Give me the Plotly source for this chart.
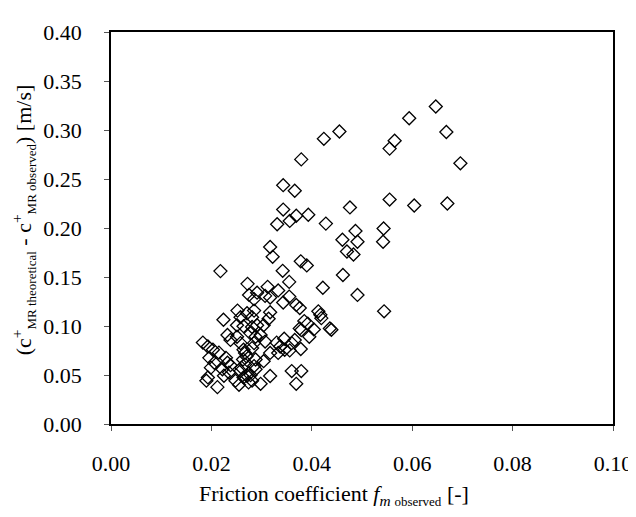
import plotly.graph_objects as go

# Friction coefficient f_m observed [-]
friction = [
    0.0647, 0.0594, 0.0668, 0.0696, 0.0604, 0.0670,
    0.0565, 0.0555, 0.0555, 0.0543, 0.0542, 0.0544,
    0.0455, 0.0424, 0.0379,
    0.0343, 0.0366,
    0.0343, 0.0369, 0.0356, 0.0331, 0.0393,
    0.0428, 0.0476, 0.0487, 0.0461, 0.0491,
    0.0470, 0.0483,
    0.0317, 0.0322, 0.0218,
    0.0378, 0.0390,
    0.0462, 0.0422, 0.0491,
    0.0342, 0.0355,
    0.0272, 0.0312, 0.0333,
    0.0275, 0.0291, 0.0307, 0.0317, 0.0285,
    0.0343, 0.0355,
    0.0369, 0.0376,
    0.0413, 0.0417, 0.0419,
    0.0385, 0.0392,
    0.0376, 0.0379, 0.0404, 0.0395,
    0.0436, 0.0439,
    0.0366, 0.0378, 0.0379, 0.0369, 0.0360,
    0.0252, 0.0285, 0.0317,
    0.0258, 0.0281, 0.0314,
    0.0224, 0.0271,
    0.0264, 0.0251, 0.0291, 0.0281, 0.0304,
    0.0232, 0.0238, 0.0251, 0.0258,
    0.0278, 0.0288, 0.0298, 0.0307,
    0.0285, 0.0281,
    0.0183, 0.0193, 0.0203,
    0.0215,
    0.0196, 0.0229,
    0.0206, 0.0232, 0.0238,
    0.0199, 0.0222,
    0.0235, 0.0225,
    0.0193, 0.0190, 0.0212,
    0.0248, 0.0255,
    0.0264, 0.0271, 0.0274,
    0.0264, 0.0267, 0.0270, 0.0263, 0.0267, 0.0260, 0.0258,
    0.0337, 0.0346, 0.0356,
    0.0317, 0.0333,
    0.0304, 0.0288,
    0.0285, 0.0288, 0.0278,
    0.0317, 0.0298, 0.0281,
    0.0360, 0.0330, 0.0345,
]

# (c+ MR theoretical - c+ MR observed) [m/s]
difference = [
    0.324, 0.312, 0.298, 0.266, 0.223, 0.225,
    0.289, 0.281, 0.229, 0.1995, 0.186, 0.115,
    0.2985, 0.291, 0.270,
    0.2437, 0.238,
    0.2188, 0.2125, 0.2072, 0.2038, 0.2135,
    0.2045, 0.221, 0.197, 0.188, 0.186,
    0.176, 0.173,
    0.1806, 0.1706, 0.156,
    0.1660, 0.1618,
    0.152, 0.139, 0.1317,
    0.1563, 0.145,
    0.143, 0.140, 0.1363,
    0.1317, 0.134, 0.1307, 0.129, 0.1274,
    0.124, 0.130,
    0.1215, 0.1184,
    0.115, 0.1114, 0.1080,
    0.105, 0.1024,
    0.0975, 0.0958, 0.0965, 0.089,
    0.0975, 0.0962,
    0.0858, 0.0765, 0.054, 0.041, 0.054,
    0.1157, 0.1157, 0.114,
    0.109, 0.109, 0.1074,
    0.1064, 0.113,
    0.0998, 0.1008, 0.1008, 0.099, 0.1008,
    0.0908, 0.0858, 0.089, 0.0825,
    0.0925, 0.089, 0.0908, 0.0841,
    0.0825, 0.0775,
    0.0831, 0.0791, 0.0758,
    0.0728,
    0.0675, 0.0675,
    0.0625, 0.0625, 0.060,
    0.0575, 0.0559,
    0.0525, 0.0492,
    0.0475, 0.0442, 0.0376,
    0.0442, 0.040,
    0.0475, 0.0492, 0.0425,
    0.0758, 0.0725, 0.069, 0.0658, 0.0608, 0.0575, 0.054,
    0.0791, 0.0758, 0.0751,
    0.0725, 0.0725,
    0.0641, 0.0658,
    0.0591, 0.0558, 0.0499,
    0.049, 0.041, 0.0442,
    0.0825, 0.083, 0.087,
]

x_ticks = [0.00, 0.02, 0.04, 0.06, 0.08, 0.10]
x_tick_text = ["0.00", "0.02", "0.04", "0.06", "0.08", "0.10"]
y_ticks = [0.00, 0.05, 0.10, 0.15, 0.20, 0.25, 0.30, 0.35, 0.40]
y_tick_text = ["0.00", "0.05", "0.10", "0.15", "0.20", "0.25", "0.30", "0.35", "0.40"]

FONT = "Times New Roman, Liberation Serif, Tinos, serif"

fig = go.Figure()
fig.add_trace(go.Scatter(
    x=friction, y=difference, mode="markers",
    marker=dict(symbol="diamond-open", size=10, color="black",
                line=dict(color="black", width=1.3)),
    showlegend=False, hoverinfo="skip",
))

axis_common = dict(
    showline=True, linecolor="black", linewidth=1.5, mirror=True,
    showgrid=False, zeroline=False,
    ticks="outside", ticklen=5, tickwidth=1, tickcolor="#555",
    tickfont=dict(family=FONT, size=22, color="black"),
)

fig.update_layout(
    width=636, height=517,
    margin=dict(l=103, r=23, t=15, b=101),
    paper_bgcolor="white", plot_bgcolor="white",
    font=dict(family=FONT, size=22, color="black"),
    xaxis=dict(range=[0, 0.10], tickvals=x_ticks, ticktext=x_tick_text,
               ticklabelstandoff=14, **axis_common),
    yaxis=dict(range=[0, 0.40], tickvals=y_ticks, ticktext=y_tick_text,
               ticklabelstandoff=18, **axis_common),
    annotations=[
        dict(text="Friction coefficient <i>f</i><sub><i>m</i> <span style='font-size:13px'>observed</span></sub> [-]",
             xref="paper", yref="paper", x=0.445, y=-0.18,
             xanchor="center", yanchor="middle", showarrow=False,
             font=dict(family=FONT, size=22, color="black")),
        dict(text="(c<sup>+</sup><sub><span style='font-size:13px'>MR theoretical</span></sub> - c<sup>+</sup><sub><span style='font-size:13px'>MR observed</span></sub>) [m/s]",
             xref="paper", yref="paper", x=-0.175, y=0.52, textangle=-90,
             xanchor="center", yanchor="middle", showarrow=False,
             font=dict(family=FONT, size=22, color="black")),
    ],
)

fig.write_html("out.html")
